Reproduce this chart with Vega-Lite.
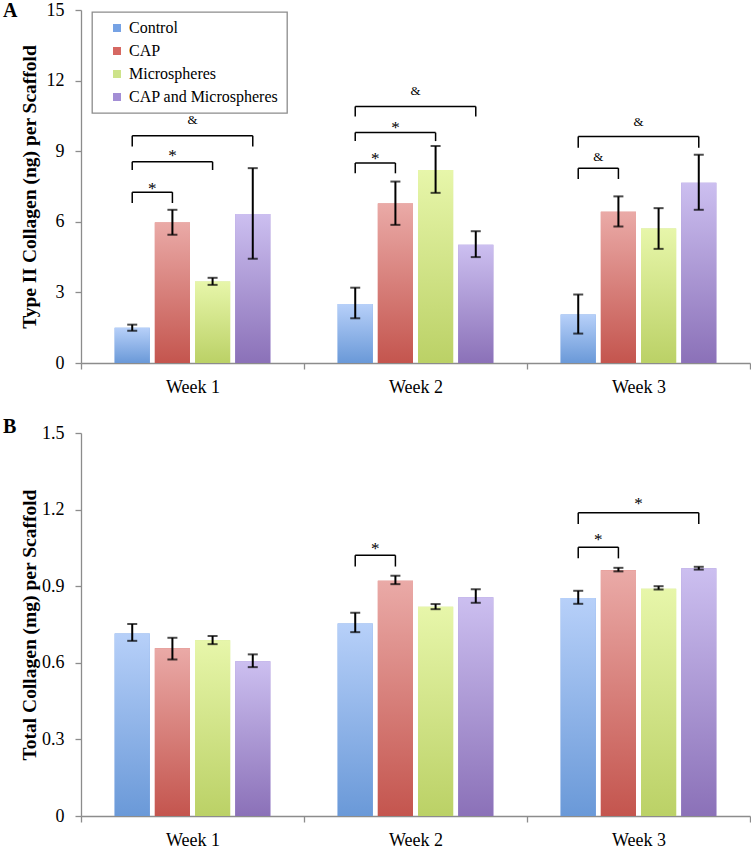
{
  "$schema": "https://vega.github.io/schema/vega-lite/v6.json",
  "padding": {"left": 3, "top": 1, "right": 0, "bottom": 0},
  "background": "white",
  "datasets": {
    "barsA": [
      {"week": "Week 1", "group": "Control", "value": 1.5, "lo": 1.37, "hi": 1.63},
      {"week": "Week 1", "group": "CAP", "value": 5.97, "lo": 5.45, "hi": 6.51},
      {"week": "Week 1", "group": "Microspheres", "value": 3.46, "lo": 3.32, "hi": 3.62},
      {"week": "Week 1", "group": "CAP and Microspheres", "value": 6.33, "lo": 4.43, "hi": 8.28},
      {"week": "Week 2", "group": "Control", "value": 2.51, "lo": 1.9, "hi": 3.2},
      {"week": "Week 2", "group": "CAP", "value": 6.78, "lo": 5.87, "hi": 7.71},
      {"week": "Week 2", "group": "Microspheres", "value": 8.2, "lo": 7.23, "hi": 9.22},
      {"week": "Week 2", "group": "CAP and Microspheres", "value": 5.02, "lo": 4.5, "hi": 5.6},
      {"week": "Week 3", "group": "Control", "value": 2.06, "lo": 1.25, "hi": 2.91},
      {"week": "Week 3", "group": "CAP", "value": 6.43, "lo": 5.8, "hi": 7.08},
      {"week": "Week 3", "group": "Microspheres", "value": 5.71, "lo": 4.85, "hi": 6.58},
      {"week": "Week 3", "group": "CAP and Microspheres", "value": 7.66, "lo": 6.51, "hi": 8.85}
    ],
    "barsB": [
      {"week": "Week 1", "group": "Control", "value": 0.715, "lo": 0.686, "hi": 0.752},
      {"week": "Week 1", "group": "CAP", "value": 0.657, "lo": 0.613, "hi": 0.698},
      {"week": "Week 1", "group": "Microspheres", "value": 0.688, "lo": 0.673, "hi": 0.705},
      {"week": "Week 1", "group": "CAP and Microspheres", "value": 0.606, "lo": 0.583, "hi": 0.633},
      {"week": "Week 2", "group": "Control", "value": 0.754, "lo": 0.72, "hi": 0.796},
      {"week": "Week 2", "group": "CAP", "value": 0.921, "lo": 0.908, "hi": 0.941},
      {"week": "Week 2", "group": "Microspheres", "value": 0.82, "lo": 0.81, "hi": 0.83},
      {"week": "Week 2", "group": "CAP and Microspheres", "value": 0.857, "lo": 0.835, "hi": 0.888},
      {"week": "Week 3", "group": "Control", "value": 0.854, "lo": 0.831, "hi": 0.882},
      {"week": "Week 3", "group": "CAP", "value": 0.962, "lo": 0.958, "hi": 0.972},
      {"week": "Week 3", "group": "Microspheres", "value": 0.89, "lo": 0.887, "hi": 0.9},
      {"week": "Week 3", "group": "CAP and Microspheres", "value": 0.97, "lo": 0.965, "hi": 0.976}
    ],
    "sigA": [
      {"id": "a1", "week": "Week 1", "from": "Control", "to": "CAP", "y": 7.26, "leg": 6.8, "label": "*", "ty": 7.17},
      {"id": "a2", "week": "Week 1", "from": "Control", "to": "Microspheres", "y": 8.55, "leg": 8.2, "label": "*", "ty": 8.58},
      {"id": "a3", "week": "Week 1", "from": "Control", "to": "CAP and Microspheres", "y": 9.66, "leg": 9.2, "label": "&", "ty": 10.16},
      {"id": "a4", "week": "Week 2", "from": "Control", "to": "CAP", "y": 8.5, "leg": 8.06, "label": "*", "ty": 8.47},
      {"id": "a5", "week": "Week 2", "from": "Control", "to": "Microspheres", "y": 9.79, "leg": 9.43, "label": "*", "ty": 9.79},
      {"id": "a6", "week": "Week 2", "from": "Control", "to": "CAP and Microspheres", "y": 10.9, "leg": 10.47, "label": "&", "ty": 11.4},
      {"id": "a7", "week": "Week 3", "from": "Control", "to": "CAP", "y": 8.28, "leg": 7.82, "label": "&", "ty": 8.6},
      {"id": "a8", "week": "Week 3", "from": "Control", "to": "CAP and Microspheres", "y": 9.62, "leg": 9.15, "label": "&", "ty": 10.07}
    ],
    "sigB": [
      {"id": "b1", "week": "Week 2", "from": "Control", "to": "CAP", "y": 1.021, "leg": 0.977, "label": "*", "ty": 1.026},
      {"id": "b2", "week": "Week 3", "from": "Control", "to": "CAP", "y": 1.053, "leg": 1.009, "label": "*", "ty": 1.061},
      {"id": "b3", "week": "Week 3", "from": "Control", "to": "CAP and Microspheres", "y": 1.188, "leg": 1.144, "label": "*", "ty": 1.204}
    ]
  },
  "vconcat": [
    {
      "width": 669,
      "height": 353,
      "title": {"text": "A", "anchor": "start", "frame": "bounds", "orient": "top", "offset": -20, "dx": -16, "fontSize": 20, "fontWeight": "bold", "font": "Liberation Serif", "color": "black"},
      "encoding": {
        "x": {"field": "week", "type": "nominal", "scale": {"domain": ["Week 1", "Week 2", "Week 3"], "paddingInner": 0, "paddingOuter": 0}, "axis": {"title": null, "labelAngle": 0, "tickBand": "extent", "labelPadding": 9}}
      },
      "layer": [
        {
          "layer": [
            {
              "data": {"name": "barsA"},
              "mark": {"type": "bar"},
              "encoding": {
                "xOffset": {"field": "group", "type": "nominal", "scale": {"domain": ["Control", "CAP", "Microspheres", "CAP and Microspheres"], "paddingInner": 0.125, "paddingOuter": 0.8375}},
                "y": {"field": "value", "type": "quantitative", "scale": {"domain": [0, 15], "nice": false}, "axis": {"title": "Type II Collagen (ng) per Scaffold", "values": [0, 3, 6, 9, 12, 15], "labelPadding": 11, "minExtent": 34, "maxExtent": 34, "titlePadding": 8}},
                "color": {"field": "group", "type": "nominal", "scale": {"domain": ["Control", "CAP", "Microspheres", "CAP and Microspheres"], "range": ["#76a2e4", "#d66862", "#cde38a", "#a38ed5"]}, "legend": {"orient": "none", "legendX": 11, "legendY": 2}}
              }
            },
            {
              "data": {"name": "barsA"},
              "transform": [{"filter": "datum.group === 'Control'"}],
              "mark": {"type": "bar", "color": {"gradient": "linear", "x1": 0, "y1": 0, "x2": 0, "y2": 1, "stops": [{"offset": 0, "color": "#b7d0f9"}, {"offset": 1, "color": "#6a99d8"}]}},
              "encoding": {"xOffset": {"field": "group"}, "y": {"field": "value", "type": "quantitative"}}
            },
            {
              "data": {"name": "barsA"},
              "transform": [{"filter": "datum.group === 'CAP'"}],
              "mark": {"type": "bar", "color": {"gradient": "linear", "x1": 0, "y1": 0, "x2": 0, "y2": 1, "stops": [{"offset": 0, "color": "#eaaaa7"}, {"offset": 1, "color": "#c4554e"}]}},
              "encoding": {"xOffset": {"field": "group"}, "y": {"field": "value", "type": "quantitative"}}
            },
            {
              "data": {"name": "barsA"},
              "transform": [{"filter": "datum.group === 'Microspheres'"}],
              "mark": {"type": "bar", "color": {"gradient": "linear", "x1": 0, "y1": 0, "x2": 0, "y2": 1, "stops": [{"offset": 0, "color": "#e7f6aa"}, {"offset": 1, "color": "#bbd166"}]}},
              "encoding": {"xOffset": {"field": "group"}, "y": {"field": "value", "type": "quantitative"}}
            },
            {
              "data": {"name": "barsA"},
              "transform": [{"filter": "datum.group === 'CAP and Microspheres'"}],
              "mark": {"type": "bar", "color": {"gradient": "linear", "x1": 0, "y1": 0, "x2": 0, "y2": 1, "stops": [{"offset": 0, "color": "#ccbff0"}, {"offset": 1, "color": "#8b71b8"}]}},
              "encoding": {"xOffset": {"field": "group"}, "y": {"field": "value", "type": "quantitative"}}
            },
            {
              "data": {"name": "barsA"},
              "mark": {"type": "rule", "color": "black", "strokeWidth": 2},
              "encoding": {"xOffset": {"field": "group"}, "y": {"field": "lo", "type": "quantitative"}, "y2": {"field": "hi"}}
            },
            {
              "data": {"name": "barsA"},
              "mark": {"type": "tick", "color": "black", "size": 10, "thickness": 2},
              "encoding": {"xOffset": {"field": "group"}, "y": {"field": "lo", "type": "quantitative"}}
            },
            {
              "data": {"name": "barsA"},
              "mark": {"type": "tick", "color": "black", "size": 10, "thickness": 2},
              "encoding": {"xOffset": {"field": "group"}, "y": {"field": "hi", "type": "quantitative"}}
            },
            {
              "data": {"name": "sigA"},
              "transform": [{"fold": ["from", "to"], "as": ["side", "grp"]}],
              "mark": {"type": "rule", "color": "black", "strokeWidth": 1.5},
              "encoding": {"xOffset": {"field": "grp"}, "y": {"field": "leg", "type": "quantitative"}, "y2": {"field": "y"}}
            },
            {
              "data": {"name": "sigA"},
              "transform": [{"fold": ["from", "to"], "as": ["side", "grp"]}],
              "mark": {"type": "line", "color": "black", "strokeWidth": 1.5},
              "encoding": {"xOffset": {"field": "grp"}, "y": {"field": "y", "type": "quantitative"}, "detail": {"field": "id"}}
            }
          ]
        },
        {
          "data": {"name": "sigA"},
          "mark": {"type": "text", "color": "black", "baseline": "alphabetic", "font": "Liberation Serif"},
          "encoding": {
            "xOffset": {"field": "to", "type": "nominal", "scale": {"type": "point", "domain": ["CAP", "Microspheres", "CAP and Microspheres"], "range": [71.3, 111.5], "padding": 0}},
            "y": {"field": "ty", "type": "quantitative"},
            "text": {"field": "label"},
            "size": {"field": "label", "type": "ordinal", "scale": {"domain": ["*", "&"], "range": [17, 13]}, "legend": null}
          }
        }
      ],
      "resolve": {"scale": {"xOffset": "independent"}}
    },
    {
      "width": 669,
      "height": 383,
      "title": {"text": "B", "anchor": "start", "frame": "bounds", "orient": "top", "offset": -13, "dx": -16, "fontSize": 20, "fontWeight": "bold", "font": "Liberation Serif", "color": "black"},
      "encoding": {
        "x": {"field": "week", "type": "nominal", "scale": {"domain": ["Week 1", "Week 2", "Week 3"], "paddingInner": 0, "paddingOuter": 0}, "axis": {"title": null, "labelAngle": 0, "tickBand": "extent", "labelPadding": 9}}
      },
      "layer": [
        {
          "layer": [
            {
              "data": {"name": "barsB"},
              "mark": {"type": "bar"},
              "encoding": {
                "xOffset": {"field": "group", "type": "nominal", "scale": {"domain": ["Control", "CAP", "Microspheres", "CAP and Microspheres"], "paddingInner": 0.125, "paddingOuter": 0.8375}},
                "y": {"field": "value", "type": "quantitative", "scale": {"domain": [0, 1.5], "nice": false}, "axis": {"title": "Total Collagen (mg) per Scaffold", "values": [0, 0.3, 0.6, 0.9, 1.2, 1.5], "labelExpr": "datum.value === 0 ? '0' : format(datum.value, '.1f')", "labelPadding": 11, "minExtent": 34, "maxExtent": 34, "titlePadding": 8}},
                "color": {"field": "group", "type": "nominal", "scale": {"domain": ["Control", "CAP", "Microspheres", "CAP and Microspheres"], "range": ["#76a2e4", "#d66862", "#cde38a", "#a38ed5"]}, "legend": {"orient": "none", "legendX": 16, "legendY": -1}}
              }
            },
            {
              "data": {"name": "barsB"},
              "transform": [{"filter": "datum.group === 'Control'"}],
              "mark": {"type": "bar", "color": {"gradient": "linear", "x1": 0, "y1": 0, "x2": 0, "y2": 1, "stops": [{"offset": 0, "color": "#b7d0f9"}, {"offset": 1, "color": "#6a99d8"}]}},
              "encoding": {"xOffset": {"field": "group"}, "y": {"field": "value", "type": "quantitative"}}
            },
            {
              "data": {"name": "barsB"},
              "transform": [{"filter": "datum.group === 'CAP'"}],
              "mark": {"type": "bar", "color": {"gradient": "linear", "x1": 0, "y1": 0, "x2": 0, "y2": 1, "stops": [{"offset": 0, "color": "#eaaaa7"}, {"offset": 1, "color": "#c4554e"}]}},
              "encoding": {"xOffset": {"field": "group"}, "y": {"field": "value", "type": "quantitative"}}
            },
            {
              "data": {"name": "barsB"},
              "transform": [{"filter": "datum.group === 'Microspheres'"}],
              "mark": {"type": "bar", "color": {"gradient": "linear", "x1": 0, "y1": 0, "x2": 0, "y2": 1, "stops": [{"offset": 0, "color": "#e7f6aa"}, {"offset": 1, "color": "#bbd166"}]}},
              "encoding": {"xOffset": {"field": "group"}, "y": {"field": "value", "type": "quantitative"}}
            },
            {
              "data": {"name": "barsB"},
              "transform": [{"filter": "datum.group === 'CAP and Microspheres'"}],
              "mark": {"type": "bar", "color": {"gradient": "linear", "x1": 0, "y1": 0, "x2": 0, "y2": 1, "stops": [{"offset": 0, "color": "#ccbff0"}, {"offset": 1, "color": "#8b71b8"}]}},
              "encoding": {"xOffset": {"field": "group"}, "y": {"field": "value", "type": "quantitative"}}
            },
            {
              "data": {"name": "barsB"},
              "mark": {"type": "rule", "color": "black", "strokeWidth": 2},
              "encoding": {"xOffset": {"field": "group"}, "y": {"field": "lo", "type": "quantitative"}, "y2": {"field": "hi"}}
            },
            {
              "data": {"name": "barsB"},
              "mark": {"type": "tick", "color": "black", "size": 10, "thickness": 2},
              "encoding": {"xOffset": {"field": "group"}, "y": {"field": "lo", "type": "quantitative"}}
            },
            {
              "data": {"name": "barsB"},
              "mark": {"type": "tick", "color": "black", "size": 10, "thickness": 2},
              "encoding": {"xOffset": {"field": "group"}, "y": {"field": "hi", "type": "quantitative"}}
            },
            {
              "data": {"name": "sigB"},
              "transform": [{"fold": ["from", "to"], "as": ["side", "grp"]}],
              "mark": {"type": "rule", "color": "black", "strokeWidth": 1.5},
              "encoding": {"xOffset": {"field": "grp"}, "y": {"field": "leg", "type": "quantitative"}, "y2": {"field": "y"}}
            },
            {
              "data": {"name": "sigB"},
              "transform": [{"fold": ["from", "to"], "as": ["side", "grp"]}],
              "mark": {"type": "line", "color": "black", "strokeWidth": 1.5},
              "encoding": {"xOffset": {"field": "grp"}, "y": {"field": "y", "type": "quantitative"}, "detail": {"field": "id"}}
            }
          ]
        },
        {
          "data": {"name": "sigB"},
          "mark": {"type": "text", "color": "black", "baseline": "alphabetic", "font": "Liberation Serif"},
          "encoding": {
            "xOffset": {"field": "to", "type": "nominal", "scale": {"type": "point", "domain": ["CAP", "Microspheres", "CAP and Microspheres"], "range": [71.3, 111.5], "padding": 0}},
            "y": {"field": "ty", "type": "quantitative"},
            "text": {"field": "label"},
            "size": {"field": "label", "type": "ordinal", "scale": {"domain": ["*", "&"], "range": [17, 13]}, "legend": null}
          }
        }
      ],
      "resolve": {"scale": {"xOffset": "independent"}}
    }
  ],
  "spacing": 21,
  "config": {
    "font": "Liberation Serif",
    "view": {"stroke": null},
    "axis": {"domainColor": "#8c8c8c", "tickColor": "#8c8c8c", "domainWidth": 1.3, "tickWidth": 1.3, "tickSize": 6, "grid": false, "labelFont": "Liberation Serif", "labelFontSize": 18, "labelColor": "black", "titleFont": "Liberation Serif", "titleFontSize": 19.5, "titleFontWeight": "bold", "titleColor": "black"},
    "axisX": {"labelFont": "Liberation Serif"},
    "axisY": {"labelFont": "Liberation Serif"},
    "legend": {"title": null, "strokeColor": "#8c8c8c", "strokeWidth": 1.3, "fillColor": "white", "padding": 8, "symbolType": "square", "symbolSize": 64, "symbolStrokeWidth": 0, "symbolOffset": 9, "labelOffset": 4, "labelFont": "Liberation Serif", "labelFontSize": 16, "labelColor": "black", "rowPadding": 7}
  }
}
